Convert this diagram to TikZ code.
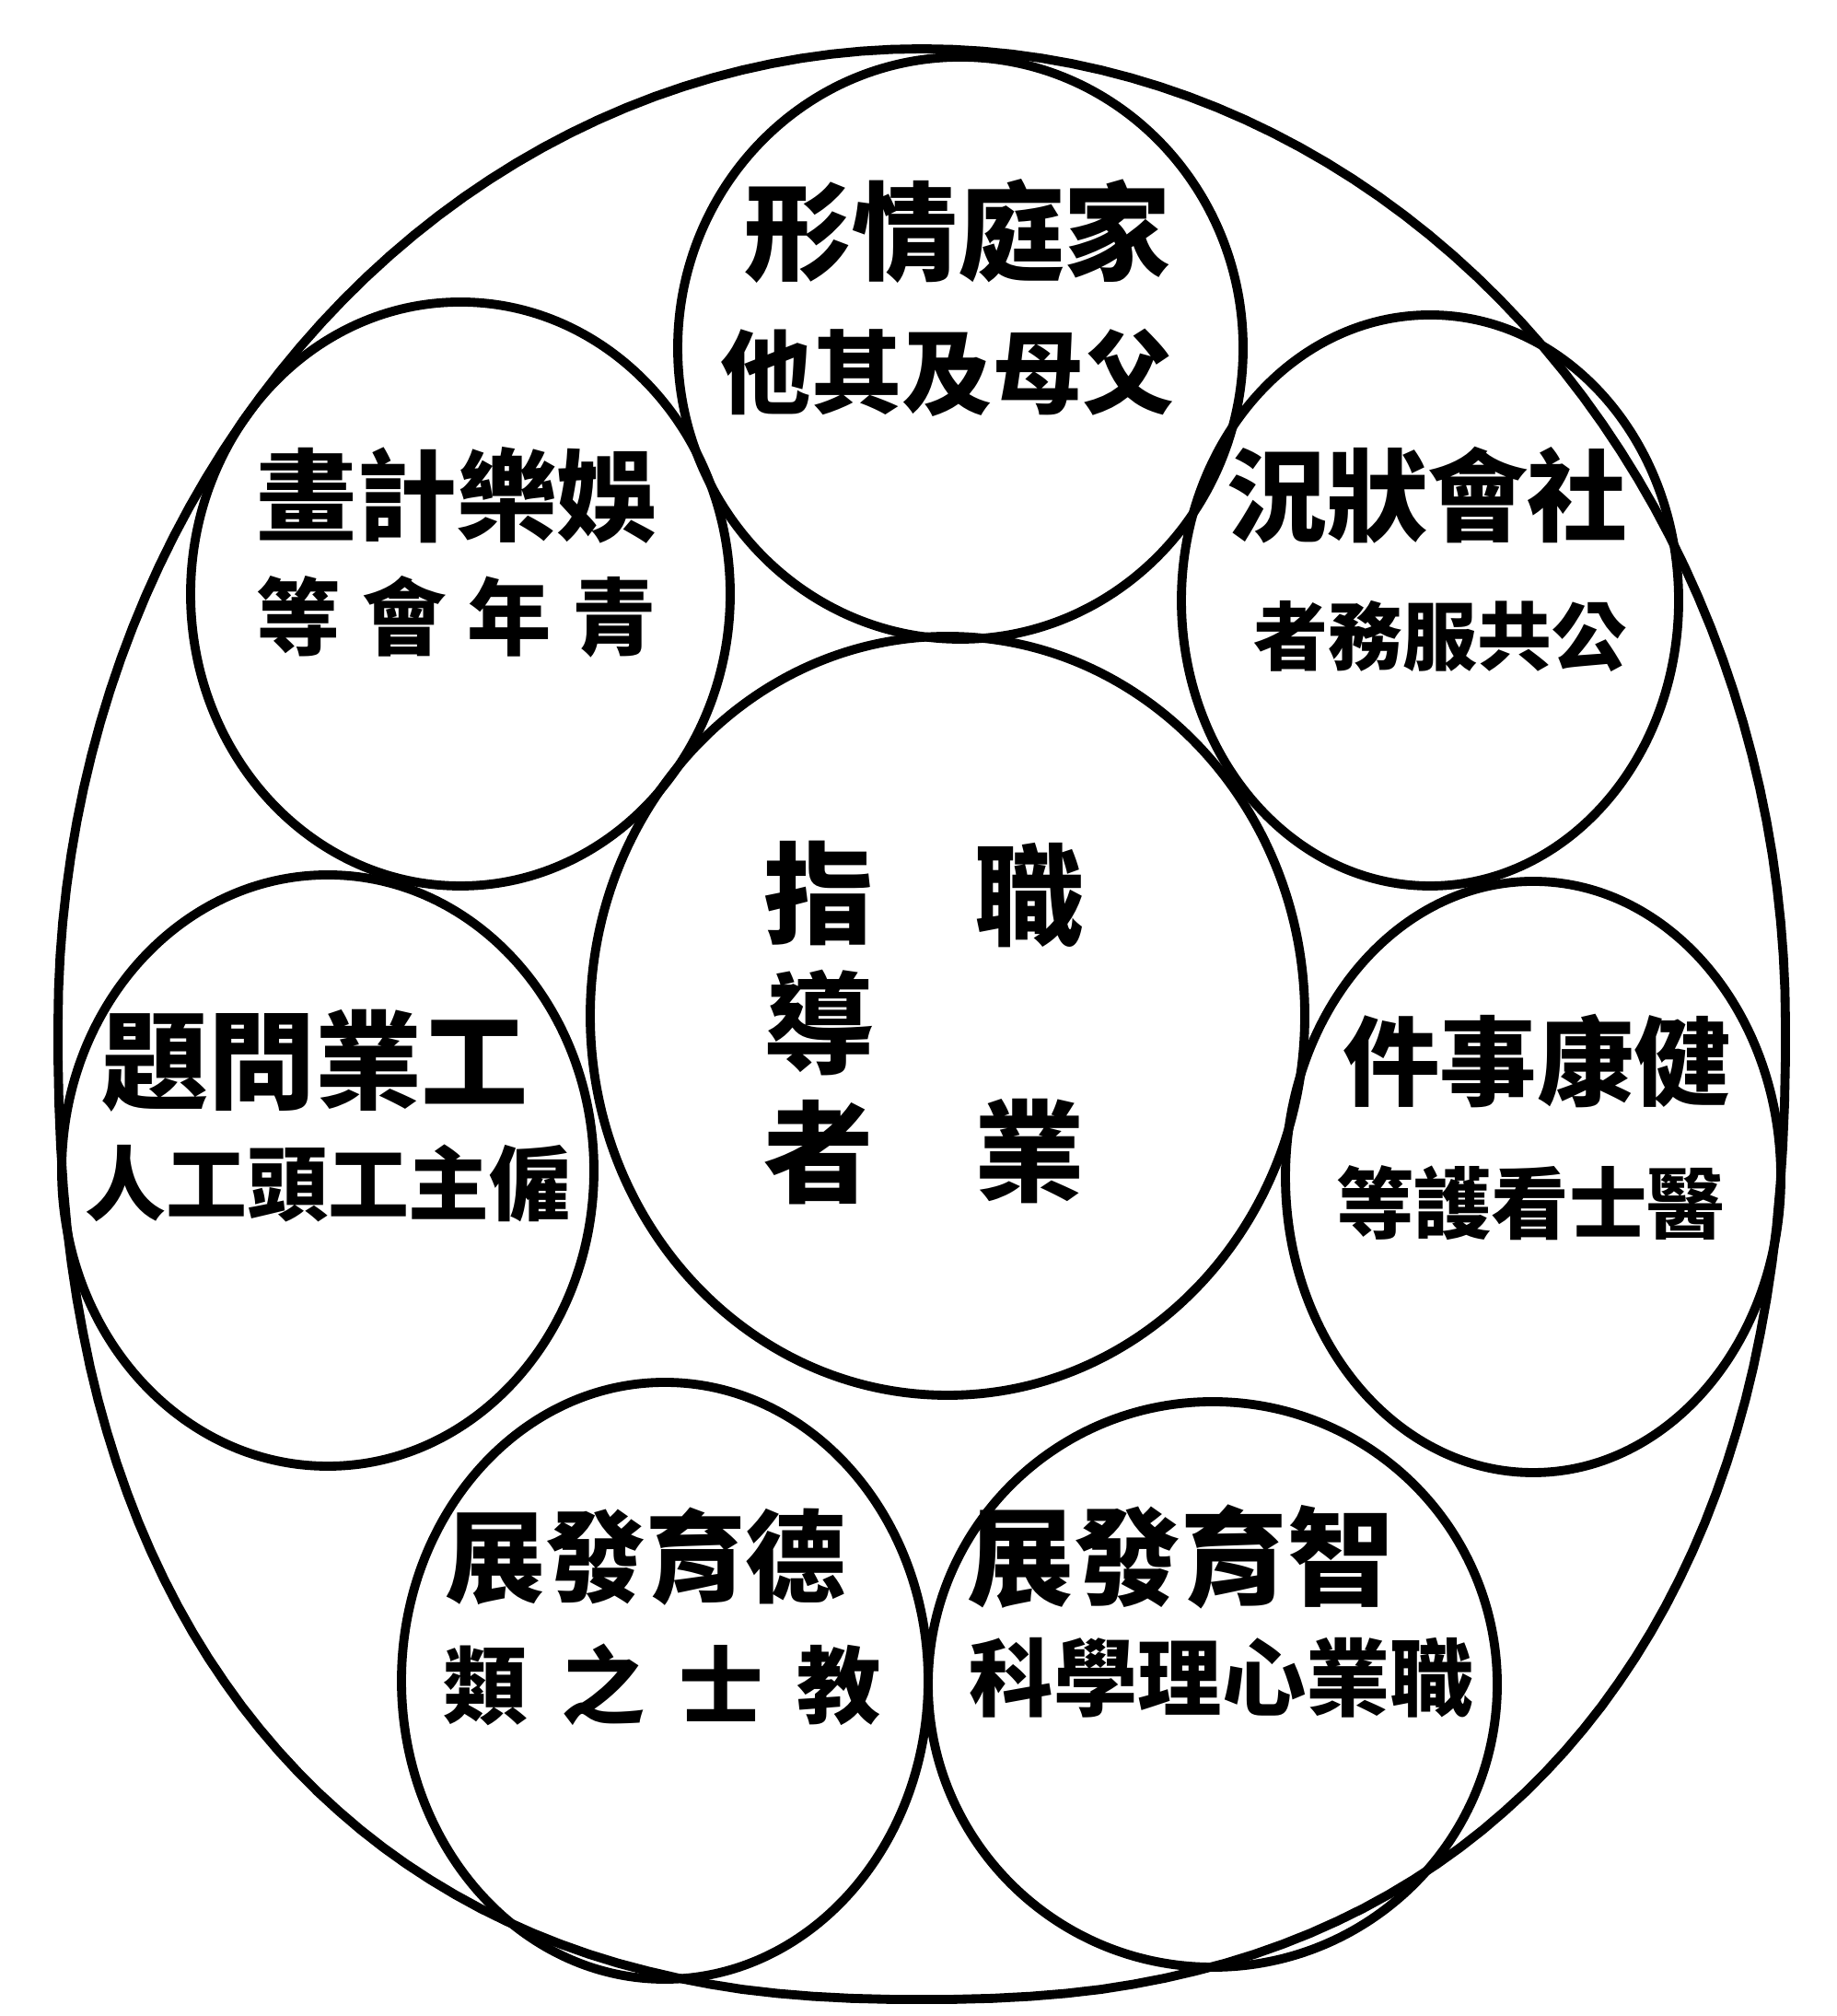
\documentclass[tikz,border=0pt]{standalone}
\usepackage{fontspec}
\newfontfamily\cjk{Noto Sans CJK TC}
\usetikzlibrary{positioning}
\tikzset{
  ring/.style={line width=2.8pt, line join=round},
  txt/.style={font=\cjk\bfseries\fontsize{#1}{#1}\selectfont, inner sep=0pt}
}

\begin{document}
\begin{tikzpicture}
  \useasboundingbox (0,0) rectangle (19.94,21.89);
  % centres of the rings
  \coordinate (whole) at (10.01,10.77);
  \coordinate (guide) at (10.29,10.86);
  \coordinate (family) at (10.43,18.11);
  \coordinate (social) at (15.53,15.37);
  \coordinate (health) at (16.65,9.11);
  \coordinate (intel) at (13.17,3.60);
  \coordinate (moral) at (7.22,3.64);
  \coordinate (industry) at (3.56,9.18);
  \coordinate (leisure) at (5.00,15.44);

  % outer egg, fuller at the bottom
  \draw[ring] plot[domain=0:180, samples=91, variable=\t]
      ({10.01+9.38*cos(\t)}, {10.77+10.59*sin(\t)})
    -- plot[domain=181:359, samples=90, variable=\t]
      ({10.01+9.38*sign(cos(\t))*abs(cos(\t))^0.85}, {10.77-10.59*abs(sin(\t))^0.85})
    -- cycle;
  \draw[ring] (guide) ellipse [x radius=3.88, y radius=4.12];
  \draw[ring] (family) ellipse [x radius=3.07, y radius=3.16];
  \draw[ring] (social) ellipse [x radius=2.70, y radius=3.10];
  \draw[ring] (health) ellipse [x radius=2.69, y radius=3.21];
  \draw[ring] (intel) ellipse [x radius=3.09, y radius=3.07];
  \draw[ring] (moral) ellipse [x radius=2.86, y radius=3.24];
  \draw[ring] (industry) ellipse [x radius=2.89, y radius=3.21];
  \draw[ring] (leisure) ellipse [x radius=2.93, y radius=3.17];

  % centre
  \node[txt=34] (zhi) at (11.18,12.17) {職};
  \node[txt=34] (ye) at (11.18,9.39) {業};
  \node[txt=34] (dao) at (8.89,10.78) {導};
  \node[txt=34, above=0.25 of dao] (zhi2) {指};
  \node[txt=34, below=0.25 of dao] (zhe) {者};

  % the seven rings
  \node[txt=33] (family1) at (10.40,19.38) {形情庭家};
  \node[txt=28] (family2) at (10.29,17.84) {他其及母父};
  \node[txt=31] (social1) at (15.50,16.51) {況狀會社};
  \node[txt=23] (social2) at (15.64,14.98) {者務服共公};
  \node[txt=30] (health1) at (16.69,10.37) {件事康健};
  \node[txt=24] (health2) at (16.62,8.83) {等護看士醫};
  \node[txt=33] (intel1) at (12.82,4.99) {展發育智};
  \node[txt=26] (intel2) at (13.27,3.67) {科學理心業職};
  \node[txt=31] (moral1) at (7.01,4.99) {展發育德};
  \node[txt=26] (moral2) at (7.19,3.60) {類\hspace{0.4em}之\hspace{0.4em}士\hspace{0.4em}教};
  \node[txt=33] (industry1) at (3.42,10.37) {題問業工};
  \node[txt=25] (industry2) at (3.56,9.04) {人工頭工主僱};
  \node[txt=31] (leisure1) at (4.96,16.51) {畫計樂娛};
  \node[txt=26] (leisure2) at (4.96,15.19) {等\hspace{0.25em}會\hspace{0.25em}年\hspace{0.25em}青};
\end{tikzpicture}
\end{document}
